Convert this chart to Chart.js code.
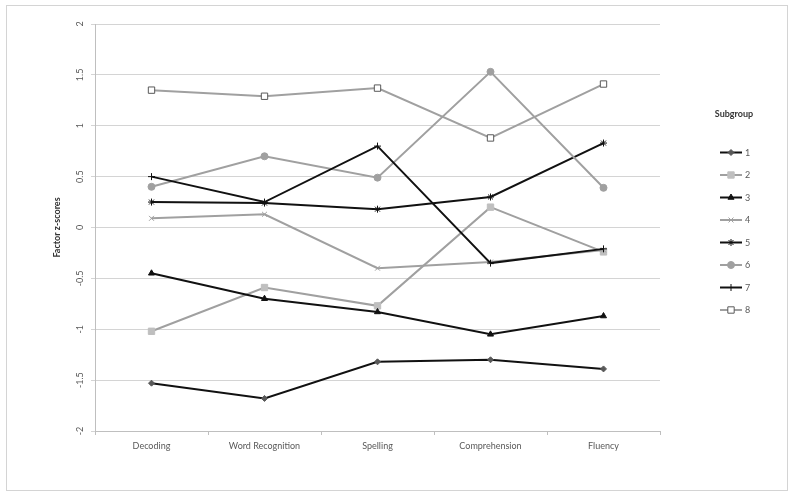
<!DOCTYPE html>
<html>
<head>
<meta charset="utf-8">
<script src="https://cdn.jsdelivr.net/npm/chart.js@4/dist/chart.umd.min.js"></script>
<style>
  html, body { margin: 0; padding: 0; background: #fff; }
  #wrap { width: 795px; height: 497px; position: relative; }
</style>
</head>
<body>
<div id="wrap"><canvas id="zChart" width="795" height="497"></canvas></div>
<script>
const categories = ['Decoding', 'Word Recognition', 'Spelling', 'Comprehension', 'Fluency'];
const subgroupNames = ['1', '2', '3', '4', '5', '6', '7', '8'];
const subgroup1 = [-1.53, -1.68, -1.32, -1.30, -1.39];
const subgroup2 = [-1.02, -0.59, -0.77, 0.20, -0.24];
const subgroup3 = [-0.45, -0.70, -0.83, -1.05, -0.87];
const subgroup4 = [0.09, 0.13, -0.40, -0.34, -0.22];
const subgroup5 = [0.25, 0.24, 0.18, 0.30, 0.83];
const subgroup6 = [0.40, 0.70, 0.49, 1.53, 0.39];
const subgroup7 = [0.50, 0.25, 0.80, -0.35, -0.21];
const subgroup8 = [1.35, 1.29, 1.37, 0.88, 1.41];
const yTicks = [-2, -1.5, -1, -0.5, 0, 0.5, 1, 1.5, 2];

const allSeries = [subgroup1, subgroup2, subgroup3, subgroup4, subgroup5, subgroup6, subgroup7, subgroup8];

const BLACK = '#111111';
const GREY = '#a0a0a0';
const FONT = 'Lato, "Open Sans", sans-serif';

// look of each subgroup: line colour, marker, marker fill
const looks = [
    {line: BLACK, style: 'rectRot', fill: '#595959', stroke: '#595959', r: 3},
    {line: GREY, style: 'rect', fill: '#bfbfbf', stroke: '#bfbfbf', r: 4.5},
    {line: BLACK, style: 'triangle', fill: '#111111', stroke: '#111111', r: 3.5},
    {line: GREY, style: 'crossRot', fill: GREY, stroke: GREY, r: 3.5},
    {line: BLACK, style: 'star', fill: BLACK, stroke: BLACK, r: 3.5},
    {line: GREY, style: 'circle', fill: GREY, stroke: GREY, r: 3.5},
    {line: BLACK, style: 'cross', fill: BLACK, stroke: BLACK, r: 3.5},
    {line: GREY, style: 'rect', fill: '#ffffff', stroke: '#595959', r: 4.5}
];

const datasets = allSeries.map((data, i) => ({
    label: subgroupNames[i],
    data: data,
    borderColor: looks[i].line,
    borderWidth: 2,
    pointStyle: looks[i].style,
    pointRadius: looks[i].r,
    pointBackgroundColor: looks[i].fill,
    pointBorderColor: looks[i].stroke,
    pointBorderWidth: 1,
    tension: 0,
    order: 8 - i
}));

// outer frame plus a hand-made legend on the right
const framePlugin = {
    id: 'framePlugin',
    beforeDraw(chart) {
        const ctx = chart.ctx;
        ctx.save();
        ctx.strokeStyle = '#d4d4d4';
        ctx.lineWidth = 1;
        ctx.strokeRect(6.5, 5.5, 781, 485);
        ctx.restore();
    },
    afterDraw(chart) {
        const ctx = chart.ctx;
        ctx.save();
        ctx.fillStyle = '#333';
        ctx.font = 'bold 9px ' + FONT;
        ctx.textAlign = 'center';
        ctx.textBaseline = 'middle';
        ctx.fillText('Subgroup', 734, 114);

        chart.data.datasets.forEach((ds, i) => {
            const y = 152.5 + i * 22.5;
            ctx.strokeStyle = ds.borderColor;
            ctx.lineWidth = 2;
            ctx.beginPath();
            ctx.moveTo(720, y);
            ctx.lineTo(742, y);
            ctx.stroke();
            ctx.fillStyle = ds.pointBackgroundColor;
            ctx.strokeStyle = ds.pointBorderColor;
            ctx.lineWidth = 1;
            Chart.helpers.drawPoint(ctx, {
                pointStyle: ds.pointStyle,
                radius: ds.pointRadius,
                rotation: 0,
                borderWidth: 1
            }, 731, y);
            ctx.fillStyle = '#595959';
            ctx.font = '9px ' + FONT;
            ctx.textAlign = 'left';
            ctx.fillText(ds.label, 745, y + 0.5);
        });
        ctx.restore();
    }
};

const zChart = new Chart(document.getElementById('zChart').getContext('2d'), {
    type: 'line',
    data: {
        labels: categories,
        datasets: datasets
    },
    options: {
        responsive: false,
        animation: false,
        layout: {
            padding: {left: 0, right: 135, top: 24, bottom: 0}
        },
        scales: {
            x: {
                offset: true,
                grid: {
                    offset: true,
                    drawOnChartArea: false,
                    drawTicks: true,
                    tickLength: 4,
                    color: '#bfbfbf'
                },
                border: {color: '#bfbfbf', width: 1},
                ticks: {
                    color: '#595959',
                    font: {family: FONT, size: 9},
                    padding: 6,
                    maxRotation: 0,
                    minRotation: 0
                },
                afterFit: s => { s.height = 66; }
            },
            y: {
                min: -2,
                max: 2,
                afterBuildTicks: s => { s.ticks = yTicks.map(v => ({value: v})); },
                grid: {
                    color: '#d4d4d4',
                    lineWidth: 1,
                    tickLength: 4
                },
                border: {color: '#bfbfbf', width: 1},
                ticks: {
                    color: '#595959',
                    font: {family: FONT, size: 9},
                    padding: 3,
                    minRotation: 90,
                    maxRotation: 90,
                    crossAlign: 'center',
                    callback: v => String(v)
                },
                title: {
                    display: true,
                    text: 'Factor z-scores',
                    color: '#333',
                    font: {family: FONT, size: 9, weight: 'bold'},
                    padding: {top: 52, bottom: 0}
                },
                afterFit: s => { s.width = 95; }
            }
        },
        plugins: {
            legend: {display: false},
            tooltip: {enabled: false}
        }
    },
    plugins: [framePlugin]
});
</script>
</body>
</html>
